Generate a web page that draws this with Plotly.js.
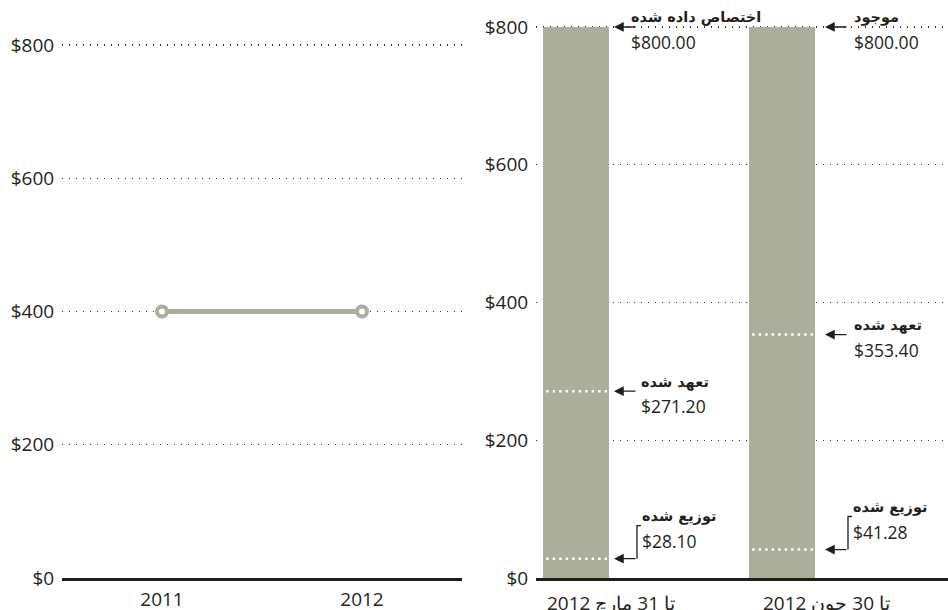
<!DOCTYPE html>
<html>
<head>
<meta charset="utf-8">
<script src="https://cdn.plot.ly/plotly-3.0.1.min.js"></script>
<style>html,body{margin:0;padding:0;background:#fff;}#chart{width:948px;height:610px;}</style>
</head>
<body>
<div id="chart"></div>
<script>
// ---- data ----
const years = ['2011', '2012'];
const yearValues = [400, 400];
const periods = ['تا 31 مارچ 2012', 'تا 30 جون 2012'];
const totalLabels = ['اختصاص داده شده', 'موجود'];
const totals = [800, 800];
const committed = [271.20, 353.40];
const distributed = [28.10, 41.28];
const committedLabel = 'تعهد شده';
const distributedLabel = 'توزیع شده';
const yTicks = [0, 200, 400, 600, 800];
const yTickText = yTicks.map(v => '$' + v);

// ---- styles ----
const W = 948, H = 610;
const green = '#aaae9b';
const textColor = '#231f20';
const mainFont = 'Open Sans, sans-serif';
const faFont = 'DejaVu Sans, sans-serif';
const unitPx = 206;               // px per bar index on right axis
const headOff = [38, 43];         // arrow head offset from bar centre (px)
const arrowLen = [23, 23];
const textOff = [[53, 63, 64], [70, 70, 69]]; // total, committed, distributed
const periodShift = [35, 44];
const elbowUnits = 48;
const yMax = 804;                 // slight headroom so the top gridline is drawn

const zeroPx = 578;
const pxL = (578 - 45) / 800, pxR = (578 - 27) / 800;
const yDomL = [1 - zeroPx / H, 1 - (zeroPx - yMax * pxL) / H];
const yDomR = [1 - zeroPx / H, 1 - (zeroPx - yMax * pxR) / H];

const gridCommon = {
  range: [0, yMax], tickvals: yTicks, ticktext: yTickText,
  showgrid: true, gridcolor: '#333333', griddash: '1.4px,5.6px', gridwidth: 1.3,
  zeroline: false, showline: false, ticks: 'outside', ticklen: 3,
  tickcolor: 'rgba(0,0,0,0)', tickfont: {size: 19, color: textColor, family: mainFont},
  fixedrange: true
};

const traces = [];
traces.push({
  type: 'scatter', mode: 'lines+markers', x: years, y: yearValues,
  xaxis: 'x', yaxis: 'y', cliponaxis: false, hoverinfo: 'skip',
  line: {color: green, width: 5},
  marker: {symbol: 'circle', size: 10, color: '#ffffff', line: {color: green, width: 4}}
});
const idx = periods.map((p, i) => i);
traces.push({
  type: 'bar', x: idx, y: totals, width: 0.32, xaxis: 'x2', yaxis: 'y2',
  marker: {color: green, line: {width: 0}}, hoverinfo: 'skip'
});
[committed, distributed].forEach(arr => {
  arr.forEach((v, i) => {
    traces.push({
      type: 'scatter', mode: 'lines', x: [i - 0.145, i + 0.15], y: [v, v],
      xaxis: 'x2', yaxis: 'y2', hoverinfo: 'skip',
      line: {color: '#ffffff', width: 2.5, dash: '2.5px,4px'}
    });
  });
});

const annotations = [];
const shapes = [];
const faFontObj = {family: faFont, size: 14.5, color: textColor};
const valFontObj = {family: mainFont, size: 17.5, color: textColor};

function arrow(i, y) {
  annotations.push({
    xref: 'x2', yref: 'y2', x: i, y: y, xshift: headOff[i],
    text: '', showarrow: true, ax: arrowLen[i], ay: 0,
    arrowhead: 2, arrowsize: 1.5, arrowwidth: 1.3, arrowcolor: '#1e1e1e', standoff: 0
  });
}
function labelPair(i, y, label, value, off) {
  annotations.push({
    xref: 'x2', yref: 'y2', x: i, y: y, xshift: off, yshift: 9,
    xanchor: 'left', yanchor: 'middle', showarrow: false,
    text: '<b>' + label + '</b>', font: faFontObj
  });
  annotations.push({
    xref: 'x2', yref: 'y2', x: i, y: y, xshift: off, yshift: -15,
    xanchor: 'left', yanchor: 'middle', showarrow: false,
    text: '$' + value.toFixed(2), font: valFontObj
  });
}

idx.forEach(i => {
  arrow(i, totals[i]);
  labelPair(i, totals[i], totalLabels[i], totals[i], textOff[i][0]);
  arrow(i, committed[i]);
  labelPair(i, committed[i], committedLabel, committed[i], textOff[i][1]);
  arrow(i, distributed[i]);
  const top = distributed[i] + elbowUnits;
  const tx = headOff[i] + arrowLen[i];
  shapes.push({
    type: 'path', xref: 'x2', yref: 'y2', xsizemode: 'pixel', xanchor: i,
    path: 'M' + tx + ',' + distributed[i] + ' L' + tx + ',' + top + ' L' + (tx + 4) + ',' + top,
    line: {color: '#1e1e1e', width: 1.3}, layer: 'above'
  });
  labelPair(i, top, distributedLabel, distributed[i], textOff[i][2]);
  annotations.push({
    xref: 'x2', yref: 'y2', x: i, y: 0, xshift: periodShift[i], yshift: -10,
    xanchor: 'center', yanchor: 'top', showarrow: false,
    text: periods[i], font: {family: mainFont, size: 19, color: textColor}
  });
});

const layout = {
  width: W, height: H, margin: {l: 0, r: 0, t: 0, b: 0},
  paper_bgcolor: '#ffffff', plot_bgcolor: '#ffffff', showlegend: false,
  font: {family: mainFont, color: textColor, size: 19},
  xaxis: {
    domain: [62 / W, 462 / W], type: 'category', range: [-0.5, 1.5], anchor: 'y',
    showgrid: false, zeroline: false, showline: true, linecolor: '#1e1e1e', linewidth: 3,
    ticks: 'outside', ticklen: 2, tickcolor: 'rgba(0,0,0,0)',
    tickfont: {size: 19, color: textColor, family: mainFont}, fixedrange: true
  },
  yaxis: Object.assign({domain: yDomL, anchor: 'x'}, gridCommon),
  xaxis2: {
    domain: [536 / W, 1], range: [-40 / unitPx, 372 / unitPx], anchor: 'y2',
    showticklabels: false, showgrid: false, zeroline: false, ticks: '',
    showline: true, linecolor: '#1e1e1e', linewidth: 3, fixedrange: true
  },
  yaxis2: Object.assign({domain: yDomR, anchor: 'x2'}, gridCommon),
  annotations: annotations,
  shapes: shapes
};

Plotly.newPlot('chart', traces, layout, {displayModeBar: false, staticPlot: true});
</script>
</body>
</html>
